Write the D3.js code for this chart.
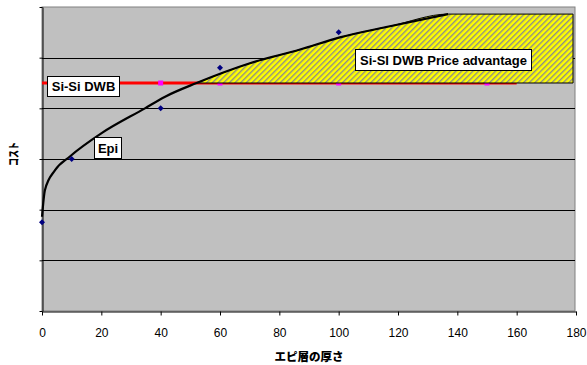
<!DOCTYPE html>
<html><head><meta charset="utf-8">
<script src="https://cdn.jsdelivr.net/npm/d3@7"></script>
<style>body{margin:0;background:#fff}svg{display:block}</style>
</head><body>
<script>
// ---- data ----
const xTicks = [0,20,40,60,80,100,120,140,160,180];
const yTicks = [0,1,2,3,4,5,6];
// Epi measured points
const epiX = [0,10,40,60,100];
const epiY = [1.75,3.0,4.0,4.8,5.5];
// Epi trend curve
const trendX = [0,1.0,4.4,9.4,20.1,34.7,41.5,52.1,70.1,87,100.4,117.3,136.9];
const trendY = [1.86,2.39,2.78,3.05,3.51,4.0,4.23,4.5,4.89,5.16,5.40,5.62,5.86];
// Si-Si DWB cost line
const dwbLineX = [0,160];
const dwbLineY = [4.5,4.5];
const dwbMarkX = [40,60,100,150];
const dwbMarkY = [4.5,4.5,4.5,4.5];
// advantage region right edge
const advRightX = 179;
const labels = ["Si-Si DWB","Epi","Si-SI DWB Price advantage"];
const xTitle = "エピ層の厚さ";
const yTitle = "コスト";

const W=587,H=365;
const L=42,R=576,T=7,B=311;
const svg=d3.select("body").append("svg").attr("width",W).attr("height",H);
const x=d3.scaleLinear().domain([0,180]).range([L,R]);
const y=d3.scaleLinear().domain([0,6]).range([B,T]);

const defs=svg.append("defs");
const P=4;
const pat=defs.append("pattern").attr("id","hatch").attr("patternUnits","userSpaceOnUse")
  .attr("width",P).attr("height",P).attr("patternTransform","rotate(45)");
pat.append("rect").attr("width",P).attr("height",P).attr("fill","#ffff00");
pat.append("rect").attr("width",1.4).attr("height",P).attr("fill","#8c8c8c");

// plot bg
svg.append("rect").attr("x",L).attr("y",T).attr("width",R-L-1).attr("height",B-T)
  .attr("fill","#c0c0c0").attr("stroke","#808080").attr("stroke-width",1);
// gridlines
svg.append("g").selectAll("line").data(yTicks.filter(d=>d>0&&d<6)).join("line")
  .attr("x1",L).attr("x2",R-1).attr("y1",d=>Math.round(y(d))+0.5).attr("y2",d=>Math.round(y(d))+0.5)
  .attr("stroke","#000").attr("stroke-width",1);

// axes
const xa=svg.append("g").attr("transform",`translate(0,${B+0.5})`)
  .call(d3.axisBottom(x).tickValues(xTicks).tickSize(4).tickSizeOuter(0).tickPadding(13));
xa.selectAll("text").attr("font-family","'Liberation Sans',Arial,sans-serif").attr("font-size",12).attr("fill","#000");
xa.select(".domain").attr("stroke","#000");
const ya=svg.append("g").attr("transform",`translate(${L+0.5},0)`)
  .call(d3.axisLeft(y).tickValues(yTicks).tickSize(3).tickSizeOuter(0).tickFormat(""));
ya.select(".domain").attr("stroke","#000");

// DWB line
const dwbPts=dwbLineX.map((d,i)=>[d,dwbLineY[i]]);
svg.append("path").attr("d",d3.line().x(d=>x(d[0])).y(d=>y(d[1]))(dwbPts))
  .attr("stroke","#ff0000").attr("stroke-width",3).attr("fill","none");
svg.append("g").selectAll("rect").data(dwbMarkX.map((d,i)=>[d,dwbMarkY[i]])).join("rect")
  .attr("x",d=>x(d[0])-2.5).attr("y",d=>y(d[1])-2.5).attr("width",5).attr("height",5).attr("fill","#ff00ff");

// advantage region
const trendPts=trendX.map((d,i)=>[d,trendY[i]]);
const base=dwbLineY[0];
const advPts=trendPts.filter(d=>d[1]>=base);
advPts.push([advRightX,trendY[trendY.length-1]]);
svg.append("path").attr("d",d3.area().x(d=>x(d[0])).y0(y(base)).y1(d=>y(d[1])).curve(d3.curveMonotoneX)(advPts))
  .attr("fill","url(#hatch)").attr("stroke","#000").attr("stroke-width",1);

// trend curve
svg.append("path").attr("d",d3.line().x(d=>x(d[0])).y(d=>y(d[1])).curve(d3.curveMonotoneX)(trendPts))
  .attr("stroke","#000").attr("stroke-width",2.2).attr("fill","none");

// epi points (diamonds)
svg.append("g").selectAll("path").data(epiX.map((d,i)=>[d,epiY[i]])).join("path")
  .attr("d","M0,-3L3,0L0,3L-3,0Z")
  .attr("transform",d=>`translate(${x(d[0])},${y(d[1])})`).attr("fill","#000080");

// labels
function box(txt,x0,y0,w,h){
  const g=svg.append("g");
  g.append("rect").attr("x",x0+0.5).attr("y",y0+0.5).attr("width",w).attr("height",h)
    .attr("fill","#fff").attr("stroke","#000").attr("stroke-width",1);
  g.append("text").attr("x",x0+w/2+0.5).attr("y",y0+h/2+5.2).attr("text-anchor","middle")
    .attr("font-family","'Liberation Sans',Arial,sans-serif").attr("font-weight","bold").attr("font-size",13)
    .text(txt);
}
box(labels[0],47,76,72,20);
box(labels[1],94,137,27,21);
box(labels[2],355,49,176,21);

// titles
svg.append("text").attr("x",(L+R)/2).attr("y",361).attr("text-anchor","middle")
  .attr("font-family","'Noto Sans CJK JP',sans-serif").attr("font-weight","900").attr("font-size",11.5)
  .text(xTitle);
svg.append("text").attr("transform","translate(18,154) rotate(-90)").attr("text-anchor","middle")
  .attr("font-family","'Noto Sans CJK JP',sans-serif").attr("font-weight","900").attr("font-size",11)
  .attr("textLength",24).attr("lengthAdjust","spacingAndGlyphs")
  .text(yTitle);
</script>
</body></html>
